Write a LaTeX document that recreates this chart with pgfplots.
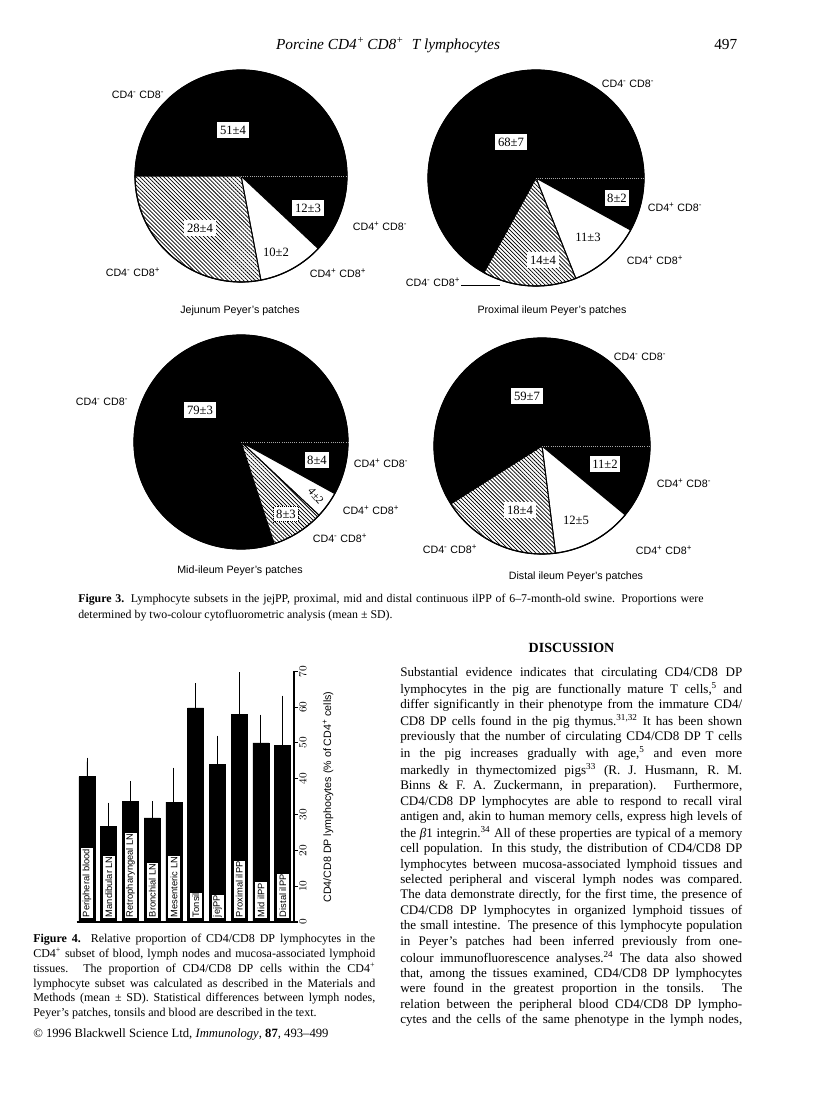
\documentclass[border=0pt]{standalone}
\usepackage{pgfplots}
\pgfplotsset{compat=1.18}
\usetikzlibrary{patterns.meta}
\usepackage{fontspec}
\setmainfont{Liberation Serif}
\setsansfont{Liberation Sans}
\newlength\colw \setlength\colw{256.5pt}
\newlength\capw \setlength\capw{469pt}
\newlength\curw
\newcommand\jl[1]{\makebox[\curw][s]{\spaceskip=0pt\xspaceskip=0pt\strut#1}\\}
\newcommand\lastl[1]{\strut#1}
\newcommand\CD[2]{CD4\textsuperscript{#1} CD8\textsuperscript{#2}}
\pgfplotsset{pieax/.style={hide axis, scale only axis, x=0.75pt, y=0.75pt,
  xmin=-125, xmax=125, ymin=-125, ymax=125, anchor=center, clip=false}}
% #1,#2 centre (px), #3 CD4+CD8-, #4 CD4+CD8+, #5 CD4-CD8+, #6 CD4-CD8-, #7 radius (px)
\newcommand\drawpie[7]{%
  \pgfmathsetmacro\thA{-3.6*#3}%
  \pgfmathsetmacro\thB{\thA-3.6*#4}%
  \pgfmathsetmacro\thC{\thB-3.6*#5}%
  \begin{axis}[pieax, at={({#1*0.75pt},{-#2*0.75pt})}]
    \addplot[fill=black, draw=black, line width=0.6pt, domain=-360:\thC, samples=120, variable=\t] ({#7*cos(\t)},{#7*sin(\t)}) -- (axis cs:0,0) -- cycle;
    \addplot[fill=black, draw=black, line width=0.6pt, domain=\thA:0, samples=40, variable=\t] ({#7*cos(\t)},{#7*sin(\t)}) -- (axis cs:0,0) -- cycle;
    \addplot[fill=white, draw=black, line width=0.8pt, domain=\thB:\thA, samples=40, variable=\t] ({#7*cos(\t)},{#7*sin(\t)}) -- (axis cs:0,0) -- cycle;
    \addplot[fill=white, draw=none, domain=\thC:\thB, samples=60, variable=\t] ({#7*cos(\t)},{#7*sin(\t)}) -- (axis cs:0,0) -- cycle;
    \addplot[pattern={Lines[angle=-45, distance=2.1pt, line width=0.55pt]}, draw=black, line width=0.8pt, domain=\thC:\thB, samples=60, variable=\t] ({#7*cos(\t)},{#7*sin(\t)}) -- (axis cs:0,0) -- cycle;
    \addplot[black, line width=0.9pt, domain=0:360, samples=181, variable=\t] ({#7*cos(\t)},{#7*sin(\t)});
    \addplot[gray!70, densely dotted, line width=0.6pt] coordinates {(0,0) (#7,0)};
  \end{axis}}
\tikzset{
  vbox/.style={fill=white, inner xsep=2pt, inner ysep=2.5pt, font=\fontsize{9.5}{10}\selectfont},
  vtxt/.style={inner sep=0pt, font=\fontsize{9.5}{10}\selectfont},
  plab/.style={inner sep=0pt, font=\sffamily\fontsize{8}{9}\selectfont},
  blab/.style={rotate=90, anchor=west, draw=black, line width=0.4pt, fill=white,
     font=\sffamily\fontsize{7}{7}\selectfont, inner xsep=1pt, inner ysep=1pt, minimum height=9.5pt},
}
\begin{document}
\begin{tikzpicture}
\fill[white] (0,0) rectangle (612pt,-832.5pt);
\path[use as bounding box] (0,0) rectangle (612pt,-832.5pt);

% ---------- Figure 3: pies ----------
\drawpie{241}{176}{12}{10}{28}{51}{106}
\drawpie{536}{178}{8}{11}{14}{68}{108}
\drawpie{241}{442}{8}{4}{8}{79}{107}
\drawpie{542}{446}{11}{12}{18}{59}{108}

% ---------- Figure 4: bars ----------
\begin{axis}[
  at={({294*0.75pt},{-922*0.75pt})}, anchor=south east,
  scale only axis, width=163.1pt, height=188pt,
  xmin=-0.48, xmax=9.52, ymin=0, ymax=70,
  axis x line*=bottom, axis y line*=right,
  xtick=\empty, ytick={0,10,...,70},
  tick align=outside, major tick length=3pt,
  yticklabel style={rotate=90, anchor=north, inner sep=1pt,
     font=\sffamily\fontsize{8}{8}\selectfont},
  axis line style={line width=0.8pt}, ytick style={line width=0.8pt, black},
  clip=false,
]
\addplot[ybar, bar width=12pt, fill=black, draw=black,
  error bars/.cd, y dir=plus, y explicit,
  error bar style={line width=0.7pt, black},
  error mark options={line width=0.7pt, mark size=3pt, black}]
  coordinates {
  (0,40.6) +- (0,4.2)
  (1,26.6) +- (0,5.6)
  (2,33.6) +- (0,4.7)
  (3,29.1) +- (0,3.5)
  (4,33.5) +- (0,8.5)
  (5,59.8) +- (0,5.7)
  (6,44.1) +- (0,6.8)
  (7,57.9) +- (0,10.7)
  (8,50.0) +- (0,6.8)
  (9,49.3) +- (0,12.8)
  };
\node[blab] at (axis cs:0,0.95) {Peripheral blood};
\node[blab] at (axis cs:1,0.95) {Mandibular LN};
\node[blab] at (axis cs:2,0.95) {Retropharyngeal LN};
\node[blab] at (axis cs:3,0.95) {Bronchial LN};
\node[blab] at (axis cs:4,0.95) {Mesenteric LN};
\node[blab] at (axis cs:5,0.95) {Tonsil};
\node[blab] at (axis cs:6,0.95) {jejPP};
\node[blab] at (axis cs:7,0.95) {Proximal ilPP};
\node[blab] at (axis cs:8,0.95) {Mid ilPP};
\node[blab] at (axis cs:9,0.95) {Distal ilPP};
\end{axis}

\begin{scope}[x=0.75pt, y=-0.75pt]
% header
\node[anchor=base, font=\itshape\fontsize{11.5}{12}\selectfont] at (388,49)
  {Porcine CD4\textsuperscript{+}\,CD8\textsuperscript{+}\ \ T lymphocytes};
\node[anchor=base east, font=\fontsize{11.5}{12}\selectfont] at (742,49) {497};

% pie 1 labels
\node[plab] at (138,95) {\CD{-}{-}};
\node[vbox] at (233,130) {51±4};
\node[vbox] at (308,208) {12±3};
\node[vtxt] at (276,252) {10±2};
\node[vbox] at (200,228) {28±4};
\node[plab] at (380,226) {\CD{+}{-}};
\node[plab] at (133,272) {\CD{-}{+}};
\node[plab] at (338,273) {\CD{+}{+}};
\node[plab] at (240,311) {Jejunum Peyer's patches};
% pie 2 labels
\node[plab] at (628,84) {\CD{-}{-}};
\node[vbox] at (511,142) {68±7};
\node[vbox] at (617,198) {8±2};
\node[plab] at (675,207) {\CD{+}{-}};
\node[vtxt] at (588,237) {11±3};
\node[vbox] at (543,260) {14±4};
\node[plab] at (655,260) {\CD{+}{+}};
\node[plab] at (433,282) {\CD{-}{+}};
\draw[line width=0.5pt] (461,285) -- (500,285);
\node[plab] at (552,311) {Proximal ileum Peyer's patches};
% pie 3 labels
\node[plab] at (102,402) {\CD{-}{-}};
\node[vbox] at (200,410) {79±3};
\node[vbox] at (317,460) {8±4};
\node[plab] at (381,463) {\CD{+}{-}};
\node[inner sep=0pt, font=\fontsize{8.5}{9}\selectfont, rotate=-50] at (316,496) {4±2};
\node[plab] at (371,510) {\CD{+}{+}};
\node[vbox, draw=black, densely dotted, line width=0.4pt] at (286,514) {8±3};
\node[plab] at (340,538) {\CD{-}{+}};
\node[plab] at (240,571) {Mid-ileum Peyer's patches};
% pie 4 labels
\node[plab] at (640,357) {\CD{-}{-}};
\node[vbox] at (527,396) {59±7};
\node[vbox] at (605,464) {11±2};
\node[plab] at (684,483) {\CD{+}{-}};
\node[vbox] at (520,510) {18±4};
\node[vtxt] at (576,520) {12±5};
\node[plab] at (450,549) {\CD{-}{+}};
\node[plab] at (664,550) {\CD{+}{+}};
\node[plab] at (576,577) {Distal ileum Peyer's patches};

% Figure 3 caption
\setlength\curw{\capw}
\node[anchor=north west, inner sep=0pt, text width=\capw, align=justify,
  font=\fontsize{8.9}{11.6}\selectfont] at (78,591.7) {%
\jl{\textbf{Figure 3.} Lymphocyte subsets in the jejPP, proximal, mid and distal continuous ilPP of 6--7-month-old swine. Proportions were}
\lastl{determined by two-colour cytofluorometric analysis (mean ± SD).}};

% Bar chart axis title
\node[rotate=90, font=\sffamily\fontsize{8}{8}\selectfont] at (328,797)
  {CD4/CD8 DP lymphocytes (\% of CD4\textsuperscript{+} cells)};

% Figure 4 caption
\setlength\curw{\colw}
\node[anchor=north west, inner sep=0pt, text width=\colw, align=justify,
  font=\fontsize{9}{11.1}\selectfont] at (33,932) {%
\jl{\textbf{Figure 4.} Relative proportion of CD4/CD8 DP lymphocytes in the}
\jl{CD4\textsuperscript{+} subset of blood, lymph nodes and mucosa-associated lymphoid}
\jl{tissues. The proportion of CD4/CD8 DP cells within the CD4\textsuperscript{+}}
\jl{lymphocyte subset was calculated as described in the Materials and}
\jl{Methods (mean ± SD). Statistical differences between lymph nodes,}
\lastl{Peyer's patches, tonsils and blood are described in the text.}};
\node[anchor=base west, inner sep=0pt, font=\fontsize{9.5}{11}\selectfont] at (33,1037)
  {© 1996 Blackwell Science Ltd, \textit{Immunology}, \textbf{87}, 493--499};

% Discussion
\node[anchor=base, font=\bfseries\fontsize{10.5}{12}\selectfont] at (571.5,652) {DISCUSSION};
\node[anchor=north west, inner sep=0pt, text width=\colw, align=justify,
  font=\fontsize{9.8}{11.55}\selectfont] at (400,665.2) {%
\jl{Substantial evidence indicates that circulating CD4/CD8 DP}
\jl{lymphocytes in the pig are functionally mature T cells,\textsuperscript{5} and}
\jl{differ significantly in their phenotype from the immature CD4/}
\jl{CD8 DP cells found in the pig thymus.\textsuperscript{31,32} It has been shown}
\jl{previously that the number of circulating CD4/CD8 DP T cells}
\jl{in the pig increases gradually with age,\textsuperscript{5} and even more}
\jl{markedly in thymectomized pigs\textsuperscript{33} (R. J. Husmann, R. M.}
\jl{Binns \& F. A. Zuckermann, in preparation). Furthermore,}
\jl{CD4/CD8 DP lymphocytes are able to respond to recall viral}
\jl{antigen and, akin to human memory cells, express high levels of}
\jl{the \textit{β}1 integrin.\textsuperscript{34} All of these properties are typical of a memory}
\jl{cell population. In this study, the distribution of CD4/CD8 DP}
\jl{lymphocytes between mucosa-associated lymphoid tissues and}
\jl{selected peripheral and visceral lymph nodes was compared.}
\jl{The data demonstrate directly, for the first time, the presence of}
\jl{CD4/CD8 DP lymphocytes in organized lymphoid tissues of}
\jl{the small intestine. The presence of this lymphocyte population}
\jl{in Peyer's patches had been inferred previously from one-}
\jl{colour immunofluorescence analyses.\textsuperscript{24} The data also showed}
\jl{that, among the tissues examined, CD4/CD8 DP lymphocytes}
\jl{were found in the greatest proportion in the tonsils. The}
\jl{relation between the peripheral blood CD4/CD8 DP lympho-}
\lastl{\makebox[\curw][s]{\spaceskip=0pt\xspaceskip=0pt cytes and the cells of the same phenotype in the lymph nodes,}}};
\end{scope}
\end{tikzpicture}
\end{document}
